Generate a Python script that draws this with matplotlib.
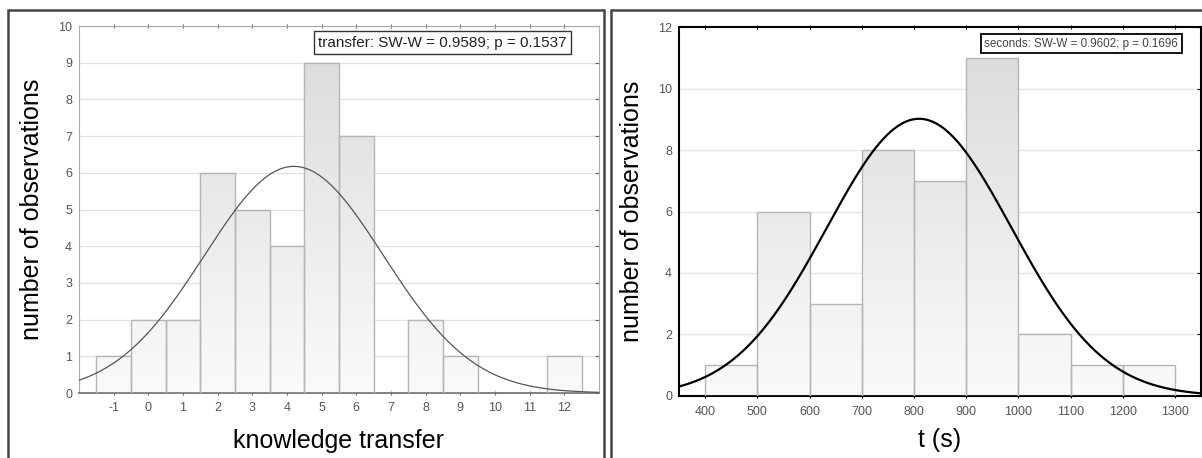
import numpy as np
import matplotlib
matplotlib.use("Agg")
from matplotlib import pyplot as plt
from matplotlib.patches import Rectangle
from matplotlib.colors import LinearSegmentedColormap, Normalize

plt.rcParams['font.family'] = ['Liberation Sans', 'DejaVu Sans']
plt.rcParams['axes.unicode_minus'] = False  # hyphen for "-1" like the original

# data
transfer_bins = [-1, 0, 1, 2, 3, 4, 5, 6, 7, 8, 9, 10, 11, 12]
transfer_counts = [1, 2, 2, 6, 5, 4, 9, 7, 0, 2, 1, 0, 0, 1]
transfer_mean, transfer_sd = 4.2, 2.584
transfer_text = "transfer: SW-W = 0.9589; p = 0.1537"

seconds_edges = [400, 500, 600, 700, 800, 900, 1000, 1100, 1200, 1300]
seconds_counts = [1, 6, 3, 8, 7, 11, 2, 1, 1]
seconds_mean, seconds_sd = 810, 177
seconds_text = "seconds: SW-W = 0.9602; p = 0.1696"

grad = LinearSegmentedColormap.from_list("g", ["#fafafa", "#dadada"])


def gradient_bars(ax, lefts, width, heights, ymax, edge):
    norm = Normalize(0, ymax)
    for x0, h in zip(lefts, heights):
        if h == 0:
            continue
        r = Rectangle((x0, 0), width, h, facecolor="none", edgecolor=edge,
                      lw=1.0, zorder=3)
        ax.add_patch(r)
        vals = np.linspace(0, h, 100).reshape(-1, 1)
        im = ax.imshow(vals, cmap=grad, norm=norm, origin="lower",
                       extent=[x0, x0 + width, 0, h], aspect="auto",
                       zorder=2, interpolation="bilinear")
        im.set_clip_path(r)


def normal_curve(x, n, binw, mu, sd):
    return n * binw / (sd * np.sqrt(2 * np.pi)) * np.exp(-0.5 * ((x - mu) / sd) ** 2)


fig = plt.figure(figsize=(12.02, 4.58), dpi=100)

# panel frames
fig.add_artist(Rectangle((8 / 1202, -0.05), (596 / 1202), 1.05 - 10 / 458,
                         transform=fig.transFigure, fill=False, edgecolor="#444444", lw=1.8))
fig.add_artist(Rectangle((611 / 1202, -0.05), (600 / 1202), 1.05 - 10 / 458,
                         transform=fig.transFigure, fill=False, edgecolor="#444444", lw=1.8))

# ---------- left panel ----------
ax1 = fig.add_axes([0.0657, 0.1419, 0.4326, 0.8013])
ax1.set_xlim(-2, 13)
ax1.set_ylim(0, 10)
ax1.set_yticks(range(0, 11))
ax1.set_xticks(range(-1, 13))
ax1.grid(axis="y", color="#e2e2e2", lw=1.0, zorder=0)
ax1.set_axisbelow(True)
gradient_bars(ax1, [b - 0.5 for b in transfer_bins], 1.0, transfer_counts, 10, "#b5b5b5")
xs = np.linspace(-2, 13, 400)
ax1.plot(xs, normal_curve(xs, sum(transfer_counts), 1.0, transfer_mean, transfer_sd),
         color="#555555", lw=0.9, zorder=4)
for s in ["left", "top", "right"]:
    ax1.spines[s].set_color("#aaaaaa")
ax1.spines["bottom"].set_color("#777777")
ax1.spines["bottom"].set_linewidth(1.3)
ax1.tick_params(axis="both", labelsize=9, colors="#666666", labelcolor="#555555",
                length=3, direction="in", top=True, right=True)
ax1.tick_params(axis="y", left=False, pad=5)
ax1.tick_params(axis="x", bottom=True, direction="inout", pad=5)
ax1.set_xlabel("knowledge transfer", fontsize=18, labelpad=11)
ax1.set_ylabel("number of observations", fontsize=18, labelpad=10)
ax1.text(0.938, 0.955, transfer_text, transform=ax1.transAxes, ha="right", va="center",
         fontsize=11, color="#222222", zorder=6,
         bbox=dict(boxstyle="square,pad=0.3", fc="white", ec="#333333", lw=1.0))

# ---------- right panel ----------
ax2 = fig.add_axes([0.5649, 0.1354, 0.4343, 0.8056])
ax2.set_xlim(350, 1350)
ax2.set_ylim(0, 12)
ax2.set_yticks(range(0, 13, 2))
ax2.set_xticks(range(400, 1301, 100))
ax2.grid(axis="y", color="#e6e6e6", lw=1.0, zorder=0)
ax2.set_axisbelow(True)
gradient_bars(ax2, seconds_edges[:-1], 100, seconds_counts, 12, "#b5b5b5")
xs2 = np.linspace(350, 1350, 400)
ax2.plot(xs2, normal_curve(xs2, sum(seconds_counts), 100, seconds_mean, seconds_sd),
         color="black", lw=1.6, zorder=4)
for s in ["left", "bottom", "top", "right"]:
    ax2.spines[s].set_color("black")
    ax2.spines[s].set_linewidth(1.5)
ax2.tick_params(axis="both", labelsize=9, colors="black", labelcolor="#555555",
                length=3, direction="in", top=True, right=True)
ax2.tick_params(axis="y", left=False, pad=5)
ax2.tick_params(axis="x", bottom=True, direction="inout", pad=6)
ax2.set_xlabel("t (s)", fontsize=18, labelpad=7)
ax2.set_ylabel("number of observations", fontsize=18, labelpad=10)
ax2.text(0.956, 0.955, seconds_text, transform=ax2.transAxes, ha="right", va="center",
         fontsize=8.4, color="#444444", zorder=6,
         bbox=dict(boxstyle="square,pad=0.3", fc="white", ec="black", lw=1.3))

fig.savefig("out.png", dpi=100)
